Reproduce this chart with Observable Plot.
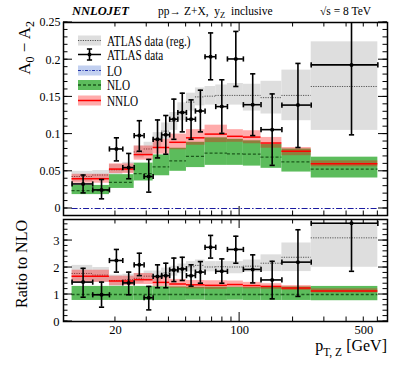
<!DOCTYPE html>
<html><head><meta charset="utf-8">
<script src="https://cdn.jsdelivr.net/npm/d3@7"></script>
<script src="https://cdn.jsdelivr.net/npm/@observablehq/plot@0.6"></script>
<style>
body{margin:0;background:#fff;}
#chart{position:relative;width:407px;height:365px;background:#fff;}
#chart svg{position:absolute;left:0;display:block;}
</style></head><body><div id="chart"></div>
<script>
// ---------------- data ----------------
// ATLAS measurement bins (pT,Z in GeV)
const dataBinLo = [11.4,14.9,18.5,22,25.5,29,32.6,36.4,40.4,44.9,50.2,56.4,63.9,73.4,85.4,105,132,173,253];
const dataBinHi = [14.9,18.5,22,25.5,29,32.6,36.4,40.4,44.9,50.2,56.4,63.9,73.4,85.4,105,132,173,253,600];
const dataX     = [13.15,16.7,20.25,23.75,27.25,30.8,34.5,38.4,42.65,47.55,53.3,60.15,68.65,79.4,95.2,118.5,152.5,213,426.5];
// ATLAS data, A0 - A2
const atlasVal = [0.033,0.025,0.080,0.055,0.098,0.043,0.093,0.099,0.120,0.129,0.120,0.131,0.204,0.137,0.201,0.1395,0.106,0.139,0.193];
const atlasLo  = [0.021,0.013,0.064,0.040,0.077,0.022,0.068,0.073,0.093,0.103,0.093,0.103,0.173,0.101,0.164,0.098,0.058,0.082,0.099];
const atlasHi  = [0.045,0.039,0.095,0.074,0.118,0.066,0.119,0.125,0.147,0.155,0.146,0.159,0.236,0.173,0.238,0.181,0.154,0.195,0.290];
// ATLAS data (reg.) band
const regVal = [0.043,0.045,0.052,0.055,0.076,0.080,0.092,0.104,0.117,0.130,0.143,0.150,0.151,0.152,0.152,0.152,0.149,0.152,0.164];
const regLo  = [0.036,0.039,0.045,0.048,0.068,0.071,0.082,0.093,0.105,0.118,0.131,0.138,0.139,0.139,0.139,0.131,0.127,0.118,0.105];
const regHi  = [0.050,0.051,0.059,0.062,0.084,0.089,0.102,0.115,0.129,0.142,0.155,0.162,0.164,0.166,0.168,0.167,0.171,0.186,0.224];
// theory bins
const thBinLo = [11.4,18.5,25.5,32.6,40.4,50.2,63.9,85.4,105,132,173,253];
const thBinHi = [18.5,25.5,32.6,40.4,50.2,63.9,85.4,105,132,173,253,600];
const nloVal  = [0.024,0.035,0.047,0.056,0.064,0.070,0.0745,0.0735,0.073,0.069,0.0627,0.053];
const nloLo   = [0.0187,0.027,0.037,0.044,0.050,0.055,0.058,0.058,0.057,0.054,0.049,0.041];
const nloHi   = [0.031,0.0455,0.061,0.072,0.081,0.089,0.095,0.093,0.091,0.086,0.080,0.069];
const nnloVal = [0.040,0.053,0.0725,0.082,0.089,0.095,0.100,0.097,0.096,0.088,0.077,0.060];
const nnloLo  = [0.034,0.047,0.065,0.073,0.079,0.085,0.0886,0.089,0.087,0.081,0.071,0.056];
const nnloHi  = [0.046,0.060,0.084,0.093,0.100,0.106,0.112,0.106,0.1045,0.0955,0.082,0.064];
const loRange = [11.4, 600];
const loVal = 0;
// ratio to NLO panel
const rAtlasVal = [1.46,0.99,2.26,1.43,2.10,0.88,1.67,1.70,1.91,1.95,1.70,1.83,2.75,1.86,2.67,1.93,1.54,2.20,3.64];
const rAtlasLo  = [0.90,0.53,1.83,0.99,1.70,0.43,1.25,1.25,1.48,1.52,1.31,1.42,2.35,1.42,2.16,1.43,0.84,0.93,1.86];
const rAtlasHi  = [1.97,1.46,2.67,1.83,2.53,1.30,2.10,2.16,2.35,2.38,2.10,2.22,3.19,2.32,3.16,2.47,2.23,3.40,5.50];
const rRegVal = [1.78,1.72,1.52,1.55,1.60,1.68,1.68,1.80,1.86,1.95,2.03,2.08,2.02,2.03,2.02,2.05,2.16,2.38,3.10];
const rRegLo  = [1.50,1.45,1.30,1.35,1.42,1.50,1.49,1.62,1.68,1.77,1.84,1.88,1.84,1.84,1.77,1.83,1.85,1.85,2.01];
const rRegHi  = [2.08,2.00,1.72,1.75,1.78,1.87,1.87,1.98,2.05,2.13,2.22,2.28,2.22,2.22,2.22,2.28,2.47,2.91,3.68];
const rNloVal = [1,1,1,1,1,1,1,1,1,1,1,1];
const rNloLo  = [0.78,0.78,0.78,0.78,0.78,0.79,0.78,0.79,0.78,0.78,0.78,0.77];
const rNloHi  = [1.30,1.30,1.30,1.29,1.28,1.27,1.27,1.27,1.26,1.26,1.28,1.30];
const rNnloVal = [1.68,1.50,1.55,1.45,1.39,1.36,1.34,1.37,1.33,1.30,1.24,1.13];
const rNnloLo  = [1.45,1.33,1.37,1.29,1.24,1.21,1.19,1.25,1.21,1.19,1.15,1.06];
const rNnloHi  = [1.90,1.68,1.78,1.65,1.56,1.52,1.51,1.50,1.45,1.40,1.33,1.21];
// ticks and labels
const xTickLabels = [20, 100, 500];
const xMinorTicks = [20,30,40,50,60,70,80,90,200,300,400,500,600];
const xMajorTicks = [100];
const mainYTicks = [0, 0.05, 0.1, 0.15, 0.2, 0.25];
const ratioYTicks = [0, 1, 2, 3];
const legendLabels = ["ATLAS data (reg.)", "ATLAS data", "LO", "NLO", "NNLO"];

// ---------------- rows ----------------
const dataRows = (v, lo, hi) => dataX.map((x, i) => ({x, x1: dataBinLo[i], x2: dataBinHi[i], v: v[i], lo: lo[i], hi: hi[i]}));
const bandRows = (v, lo, hi) => dataBinLo.map((x1, i) => ({x1, x2: dataBinHi[i], v: v[i], lo: lo[i], hi: hi[i]}));
const thRows = (v, lo, hi) => thBinLo.map((x1, i) => ({x1, x2: thBinHi[i], v: v[i], lo: lo[i], hi: hi[i]}));

const serif = '"Liberation Serif", "DejaVu Serif", serif';
const xDomain = [10.2, 680];
const NS = "http://www.w3.org/2000/svg";
function el(tag, attrs = {}, text) {
  const e = document.createElementNS(NS, tag);
  for (const [k, v] of Object.entries(attrs)) e.setAttribute(k, v);
  if (text != null) e.textContent = text;
  return e;
}
function rich(parts, attrs) {
  const t = el("text", Object.assign({"font-family": serif, fill: "#000", "text-anchor": "start", style: "white-space:pre"}, attrs));
  for (const p of parts) t.appendChild(el("tspan", p.a || {}, p.t));
  return t;
}
const hbar = {draw(ctx, size) { const r = Math.sqrt(size / Math.PI); ctx.moveTo(-r, 0); ctx.lineTo(r, 0); }};
const vbar = {draw(ctx, size) { const r = Math.sqrt(size / Math.PI); ctx.moveTo(0, -r); ctx.lineTo(0, r); }};

function frameTicks(yMajor, yMinor) {
  return (index, scales, values, dims) => {
    const {x, y} = scales;
    const L = dims.marginLeft, R = dims.width - dims.marginRight, T = dims.marginTop, B = dims.height - dims.marginBottom;
    let d = "";
    const xs = (list, len) => { for (const v of list) { const p = x(v); d += `M${p},${B}v${-len}M${p},${T}v${len}`; } };
    const ys = (list, len) => { for (const v of list) { const p = y(v); d += `M${L},${p}h${len}M${R},${p}h${-len}`; } };
    xs(xMajorTicks, 9); xs(xMinorTicks, 4.5); ys(yMajor, 9); ys(yMinor, 4.5);
    return el("path", {d, stroke: "#000", "stroke-width": 1, fill: "none"});
  };
}

function errorMarks(rows) {
  const s = {stroke: "#000", strokeWidth: 1.6, clip: true};
  return [
    Plot.ruleX(rows, {x: "x", y1: "lo", y2: "hi", ...s}),
    Plot.ruleY(rows, {x1: "x1", x2: "x2", y: "v", ...s}),
    Plot.dot(rows, {x: "x", y: "lo", symbol: hbar, r: 2.6, fill: "none", ...s}),
    Plot.dot(rows, {x: "x", y: "hi", symbol: hbar, r: 2.6, fill: "none", ...s}),
    Plot.dot(rows, {x: "x1", y: "v", symbol: vbar, r: 2.6, fill: "none", ...s}),
    Plot.dot(rows, {x: "x2", y: "v", symbol: vbar, r: 2.6, fill: "none", ...s}),
    Plot.dot(rows, {x: "x", y: "v", r: 2, fill: "#000", clip: true})
  ];
}
function theoryMarks(reg, nlo, nnlo) {
  return [
    Plot.rect(reg, {x1: "x1", x2: "x2", y1: "lo", y2: "hi", fill: "#dedede", clip: true}),
    Plot.ruleY(reg, {x1: "x1", x2: "x2", y: "v", stroke: "#555", strokeDasharray: "1.2,1.2", strokeWidth: 1}),
    Plot.rect(nlo, {x1: "x1", x2: "x2", y1: "lo", y2: "hi", fill: "#5cbc5c"}),
    Plot.ruleY(nlo, {x1: "x1", x2: "x2", y: "v", stroke: "#1d5a1d", strokeDasharray: "3,2", strokeWidth: 1.3}),
    Plot.rect(nnlo, {x1: "x1", x2: "x2", y1: "lo", y2: "hi", fill: "#ff0000", fillOpacity: 0.33}),
    Plot.ruleY(nnlo, {x1: "x1", x2: "x2", y: "v", stroke: "#ff0000", strokeWidth: 1.5})
  ];
}

const headerMark = () => {
  const g = el("g", {});
  g.appendChild(rich([{t: "NNLOJET"}], {x: 72, y: 15, "font-size": 12.5, "font-weight": "bold", "font-style": "italic"}));
  g.appendChild(rich([{t: "pp\u2192 Z+X,  y"}, {t: "Z", a: {dy: 3, "font-size": 8.5}}, {t: "  inclusive", a: {dy: -3}}], {x: 158, y: 15, "font-size": 11.5}));
  g.appendChild(rich([{t: "\u221As = 8 TeV"}], {x: 320, y: 15, "font-size": 11.5}));
  g.appendChild(rich([{t: "A"}, {t: "0", a: {dy: 4, "font-size": 12}}, {t: " \u2212 A", a: {dy: -4}}, {t: "2", a: {dy: 4, "font-size": 12}}],
    {transform: "translate(30,21) rotate(-90)", "text-anchor": "end", "font-size": 17}));
  return g;
};

const legendMark = () => {
  const g = el("g", {});
  const rowsY = [40.5, 54.5, 70.5, 85, 100.5];
  const x0 = 78, x1 = 101, xm = 89.5;
  const styles = [
    {fill: "#dedede", line: {stroke: "#555", "stroke-dasharray": "1.2,1.2", "stroke-width": 1}},
    null,
    {fill: "#c2d0f0", line: {stroke: "#2233aa", "stroke-dasharray": "3,1.5,1,1.5", "stroke-width": 1}},
    {fill: "#5cbc5c", line: {stroke: "#1d5a1d", "stroke-dasharray": "3,2", "stroke-width": 1.3}},
    {fill: "rgba(255,0,0,0.33)", line: {stroke: "#ff0000", "stroke-width": 1.5}}
  ];
  legendLabels.forEach((lab, i) => {
    const y = rowsY[i];
    const s = styles[i];
    if (s) {
      g.appendChild(el("rect", {x: x0, y: y - 5, width: x1 - x0, height: 10, fill: s.fill}));
      g.appendChild(el("line", Object.assign({x1: x0, x2: x1, y1: y, y2: y}, s.line)));
    } else {
      const d = `M${x0},${y}H${x1}M${xm},${y - 5.5}V${y + 5.5}M${xm - 2.6},${y - 5.5}h5.2M${xm - 2.6},${y + 5.5}h5.2`;
      g.appendChild(el("path", {d, stroke: "#000", "stroke-width": 1.6, fill: "none"}));
      g.appendChild(el("circle", {cx: xm, cy: y, r: 2, fill: "#000"}));
    }
    g.appendChild(rich([{t: lab}], {transform: `translate(107,${y + 5}) scale(0.8,1)`, "font-size": 14}));
  });
  return g;
};

const mainPlot = Plot.plot({
  width: 407, height: 217, marginTop: 22, marginBottom: 2, marginLeft: 63, marginRight: 20,
  style: {fontFamily: serif, fontSize: "12px", background: "#fff", color: "#000"},
  x: {type: "log", domain: xDomain, axis: null},
  y: {domain: [-0.0094, 0.25], axis: null},
  marks: [
    ...theoryMarks(bandRows(regVal, regLo, regHi), thRows(nloVal, nloLo, nloHi), thRows(nnloVal, nnloLo, nnloHi)),
    Plot.ruleY([{x1: loRange[0], x2: loRange[1], v: loVal}], {x1: "x1", x2: "x2", y: "v", stroke: "#1a1aa0", strokeWidth: 1.1, strokeDasharray: "6,2,1.5,2"}),
    ...errorMarks(dataRows(atlasVal, atlasLo, atlasHi)),
    Plot.axisY({ticks: mainYTicks, tickSize: 0, tickPadding: 3, tickFormat: d => String(d), label: null, fontSize: 12}),
    Plot.frame({stroke: "#000", strokeWidth: 1.5}),
    frameTicks(mainYTicks, d3.range(0, 0.2501, 0.01)),
    legendMark,
    headerMark
  ]
});

const ratioTitles = () => {
  const g = el("g", {});
  g.appendChild(rich([{t: "Ratio to NLO"}], {transform: "translate(27,47) rotate(-90)", "text-anchor": "middle", "font-size": 16}));
  g.appendChild(rich([{t: "p"}, {t: "T, Z", a: {dy: 5, "font-size": 11.5}}, {t: " [GeV]", a: {dy: -5}}],
    {x: 387, y: 134, "text-anchor": "end", "font-size": 16}));
  return g;
};

const ratioPlot = Plot.plot({
  width: 407, height: 148, marginTop: 2, marginBottom: 44, marginLeft: 63, marginRight: 20,
  style: {fontFamily: serif, fontSize: "12px", background: "#fff", color: "#000"},
  x: {type: "log", domain: xDomain, axis: null},
  y: {domain: [0, 3.78], axis: null},
  marks: [
    ...theoryMarks(bandRows(rRegVal, rRegLo, rRegHi), thRows(rNloVal, rNloLo, rNloHi), thRows(rNnloVal, rNnloLo, rNnloHi)),
    ...errorMarks(dataRows(rAtlasVal, rAtlasLo, rAtlasHi)),
    Plot.axisY({ticks: ratioYTicks, tickSize: 0, tickPadding: 4, tickFormat: d => String(d), label: null, fontSize: 12.5}),
    Plot.axisX({ticks: xTickLabels, tickSize: 0, tickPadding: 4, tickFormat: d => String(d), label: null, fontSize: 12.5}),
    Plot.frame({stroke: "#000", strokeWidth: 1.5}),
    frameTicks(ratioYTicks, d3.range(0, 3.79, 0.2)),
    ratioTitles
  ]
});

const chart = document.getElementById("chart");
mainPlot.style.top = "0px";
ratioPlot.style.top = "217px";
chart.appendChild(mainPlot);
chart.appendChild(ratioPlot);
</script></body></html>
